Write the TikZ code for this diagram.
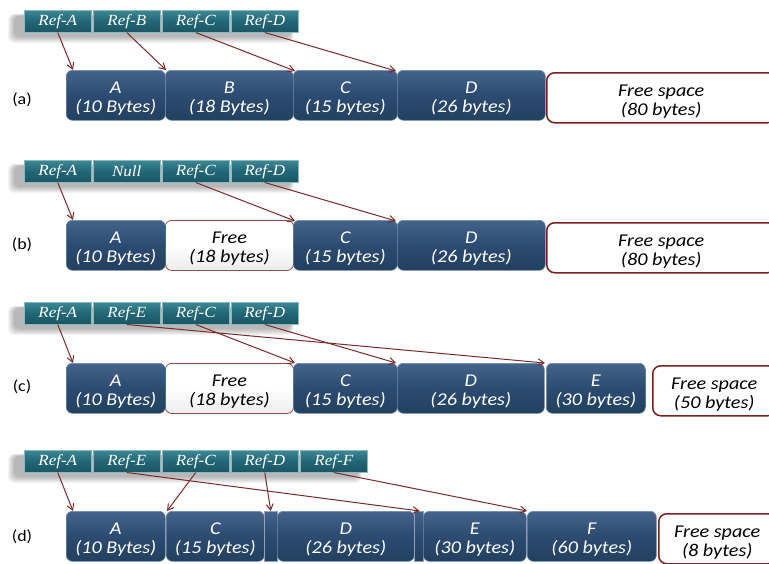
\documentclass[tikz,border=0pt]{standalone}
\usepackage{fontspec}
\setmainfont{Carlito}
\newfontfamily\blkfont[FakeStretch=1.12]{Carlito}
\newfontfamily\reffont[FakeStretch=1.1]{Liberation Serif}
\usetikzlibrary{arrows.meta,calc}
\definecolor{navyT}{HTML}{43648C}
\definecolor{navyM}{HTML}{2C4B71}
\definecolor{navyB}{HTML}{22405F}
\definecolor{tealT}{HTML}{3C8894}
\definecolor{tealM}{HTML}{226675}
\definecolor{tealB}{HTML}{1B5664}
\definecolor{arrowred}{HTML}{7B2A2A}
\definecolor{freered}{HTML}{7A1F22}
\newcommand{\mytopstrut}{\rule{0pt}{19pt}}
\newcommand{\myrowshade}[2]{%
  \foreach \k in {1,...,7}{%
    \fill[black, opacity=0.045, rounded corners=6] (15-\k, #1+6-0.3*\k) rectangle (#2-8+0.5*\k, #1+26+\k);
  }%
}
\tikzset{
  refbox/.style={rectangle, inner sep=0, minimum width=67, minimum height=22, anchor=north west,
    top color=tealT, bottom color=tealB, middle color=tealM, draw=tealT!60!white, line width=0.5,
    font=\reffont\itshape\fontsize{15.5}{15.5}\selectfont, text=white},
  block/.style={rectangle, rounded corners=6, inner sep=0, minimum height=50, anchor=north west,
    top color=navyT, bottom color=navyB, middle color=navyM, draw=navyT!75!white, line width=0.6,
    align=center, text=white, font=\blkfont\itshape\fontsize{18}{19}\selectfont},
  freebox/.style={block, top color=white, bottom color=white, middle color=white, draw=freered,
    line width=1.5, rounded corners=8, text=black},
  freemid/.style={block, top color=white, bottom color=gray!15, middle color=white, draw=freered!80!white,
    line width=0.8, text=black},
  gapstrip/.style={rectangle, inner sep=0, minimum height=50, anchor=north west,
    top color=navyT, bottom color=navyB, middle color=navyM, draw=navyT!60!white, line width=0.5},
  ptr/.style={draw=arrowred, line width=1, -{Straight Barb[length=6pt,width=7pt]}},
  rowlabel/.style={font=\blkfont\fontsize{16}{16}\selectfont, text=black, inner sep=0}
}
\begin{document}
\begin{tikzpicture}[x=1pt,y=-1pt]
\clip (0,0) rectangle (769,563);
\fill[white] (0,0) rectangle (769,563);

% ---------- row (a) ----------
\myrowshade{10}{298}
\node[refbox] (ra1) at (24,10) {Ref-A};
\node[refbox] (ra2) at (93,10) {Ref-B};
\node[refbox] (ra3) at (162,10) {Ref-C};
\node[refbox] (ra4) at (231,10) {Ref-D};
\node[block, minimum width=99] (ma1) at (66,70) {\mytopstrut A\\(10 Bytes)};
\node[block, minimum width=128] (ma2) at (165,70) {\mytopstrut B\\(18 Bytes)};
\node[block, minimum width=104] (ma3) at (293,70) {\mytopstrut C\\(15 bytes)};
\node[block, minimum width=148] (ma4) at (397,70) {\mytopstrut D\\(26 bytes)};
\node[freebox, minimum width=229] (ma5) at (546,72) {\mytopstrut Free space\\(80 bytes)};
\node[rowlabel] (la) at (22,100) {(a)};
\draw[ptr] (ra1.south) -- ($(ma1.north west)+(7,0)$);
\draw[ptr] (ra2.south) -- ($(ma2.north west)+(1,0)$);
\draw[ptr] (ra3.south) -- ($(ma3.north west)+(2,1)$);
\draw[ptr] (ra4.south) -- ($(ma4.north west)+(-1,1)$);

% ---------- row (b) ----------
\myrowshade{160}{298}
\node[refbox] (rb1) at (24,160) {Ref-A};
\node[refbox] (rb2) at (93,160) {Null};
\node[refbox] (rb3) at (162,160) {Ref-C};
\node[refbox] (rb4) at (231,160) {Ref-D};
\node[block, minimum width=99] (mb1) at (66,220) {\mytopstrut A\\(10 Bytes)};
\node[freemid, minimum width=128] (mb2) at (165,220) {\mytopstrut Free\\(18 bytes)};
\node[block, minimum width=104] (mb3) at (293,220) {\mytopstrut C\\(15 bytes)};
\node[block, minimum width=148] (mb4) at (397,220) {\mytopstrut D\\(26 bytes)};
\node[freebox, minimum width=229] (mb5) at (546,222) {\mytopstrut Free space\\(80 bytes)};
\node[rowlabel] (lb) at (22,245) {(b)};
\draw[ptr] (rb1.south) -- ($(mb1.north west)+(7,0)$);
\draw[ptr] (rb3.south) -- ($(mb3.north west)+(2,1)$);
\draw[ptr] (rb4.south) -- ($(mb4.north west)+(-1,1)$);

% ---------- row (c) ----------
\myrowshade{302}{298}
\node[refbox] (rc1) at (24,302) {Ref-A};
\node[refbox] (rc2) at (93,302) {Ref-E};
\node[refbox] (rc3) at (162,302) {Ref-C};
\node[refbox] (rc4) at (231,302) {Ref-D};
\node[block, minimum width=99] (mc1) at (66,363) {\mytopstrut A\\(10 Bytes)};
\node[freemid, minimum width=128] (mc2) at (165,363) {\mytopstrut Free\\(18 bytes)};
\node[block, minimum width=104] (mc3) at (293,363) {\mytopstrut C\\(15 bytes)};
\node[block, minimum width=147] (mc4) at (397,363) {\mytopstrut D\\(26 bytes)};
\node[block, minimum width=99] (mc5) at (546,363) {\mytopstrut E\\(30 bytes)};
\node[freebox, minimum width=123] (mc6) at (652,365) {\mytopstrut Free space\\(50 bytes)};
\node[rowlabel] (lc) at (22,387) {(c)};
\draw[ptr] (rc1.south) -- ($(mc1.north west)+(7,0)$);
\draw[ptr] (rc2.south) -- ($(mc5.north west)+(-1,0)$);
\draw[ptr] (rc3.south) -- ($(mc3.north west)+(2,0)$);
\draw[ptr] (rc4.south) -- ($(mc4.north west)+(-1,0)$);

% ---------- row (d) ----------
\myrowshade{450}{366}
\node[refbox] (rd1) at (24,450) {Ref-A};
\node[refbox] (rd2) at (93,450) {Ref-E};
\node[refbox] (rd3) at (162,450) {Ref-C};
\node[refbox] (rd4) at (231,450) {Ref-D};
\node[refbox] (rd5) at (300,450) {Ref-F};
\node[block, minimum width=99] (md1) at (66,511) {\mytopstrut A\\(10 Bytes)};
\node[block, minimum width=98] (md2) at (166,511) {\mytopstrut C\\(15 bytes)};
\node[gapstrip, minimum width=13] (sd1) at (264,511) {};
\node[block, minimum width=137] (md3) at (277,511) {\mytopstrut D\\(26 bytes)};
\node[gapstrip, minimum width=9] (sd2) at (414,511) {};
\node[block, minimum width=103] (md4) at (423,511) {\mytopstrut E\\(30 bytes)};
\node[block, minimum width=129] (md5) at (527,511) {\mytopstrut F\\(60 bytes)};
\node[freebox, minimum width=117] (md6) at (658,513) {\mytopstrut Free space\\(8 bytes)};
\node[rowlabel] (ld) at (22,537) {(d)};
\draw[ptr] (rd1.south) -- ($(md1.north west)+(7,0)$);
\draw[ptr] (rd2.south) -- ($(sd2.north)+(1,0)$);
\draw[ptr] (rd3.south) -- ($(md2.north west)+(1,0)$);
\draw[ptr] (rd4.south) -- (sd1.north);
\draw[ptr] (rd5.south) -- ($(md5.north west)+(0,0)$);
\end{tikzpicture}
\end{document}
